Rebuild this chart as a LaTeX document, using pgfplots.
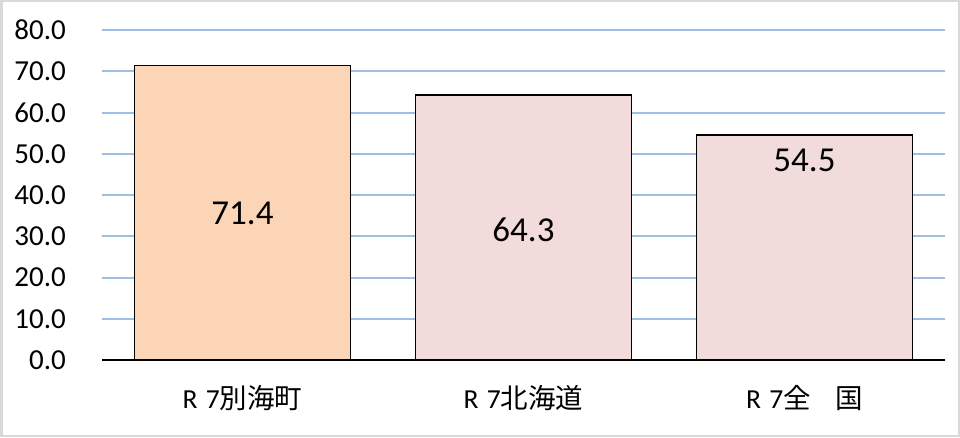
\documentclass[border=0pt]{standalone}
\usepackage{fontspec}
\setmainfont{Carlito}
\newfontfamily\cjk{Noto Sans CJK JP}
\usepackage{pgfplots}
\pgfplotsset{compat=1.18}
\definecolor{gridblue}{RGB}{160,190,228}
\definecolor{peach}{RGB}{251,213,181}
\definecolor{pinkish}{RGB}{242,220,219}
\definecolor{frame}{RGB}{217,217,217}
\begin{document}
\begin{tikzpicture}[x=1pt,y=1pt]
\useasboundingbox (0,0) rectangle (960,437);
\fill[white] (0,0) rectangle (960,437);
\draw[frame, line width=2.5pt] (1.25,1.25) rectangle (958.75,435.75);
\begin{axis}[
  at={(102pt,77pt)}, anchor=south west,
  scale only axis, width=843pt, height=330pt,
  xmin=-0.5, xmax=2.5, ymin=0, ymax=80,
  ytick={0,10,...,80},
  xtick={0,1,2},
  xticklabels={{R\hspace{0.3em}7{\cjk 別海町}},{R\hspace{0.3em}7{\cjk 北海道}},{R\hspace{0.3em}7{\cjk 全\hspace{0.9em}国}}},
  axis x line=bottom, axis y line=left,
  x axis line style={black, line width=1.5pt, -},
  y axis line style={draw=none},
  major tick length=0pt,
  ymajorgrids, grid style={gridblue, line width=2pt},
  /pgf/number format/.cd, fixed, fixed zerofill, precision=1, assume math mode=true,
  /pgfplots/.cd,
  yticklabel style={font=\fontsize{29}{29}\selectfont, anchor=east, inner sep=0pt, xshift=-36pt},
  xticklabel style={font=\fontsize{27.5}{27.5}\selectfont, anchor=center, inner sep=0pt, yshift=-38pt},
  clip=false,
]
\addplot[ybar, bar width=216pt, bar shift=0pt, fill=peach, draw=black, line width=1.8pt] coordinates {(0,71.4)};
\addplot[ybar, bar width=216pt, bar shift=0pt, fill=pinkish, draw=black, line width=1.8pt] coordinates {(1,64.3) (2,54.5)};
\addplot[only marks, mark=none, point meta=explicit symbolic, nodes near coords,
  every node near coord/.append style={font=\fontsize{35}{35}\selectfont, anchor=center, inner sep=0pt}]
  coordinates {(0,35.6)[71.4] (1,31.5)[64.3] (2,48.5)[54.5]};
\end{axis}
\end{tikzpicture}
\end{document}
